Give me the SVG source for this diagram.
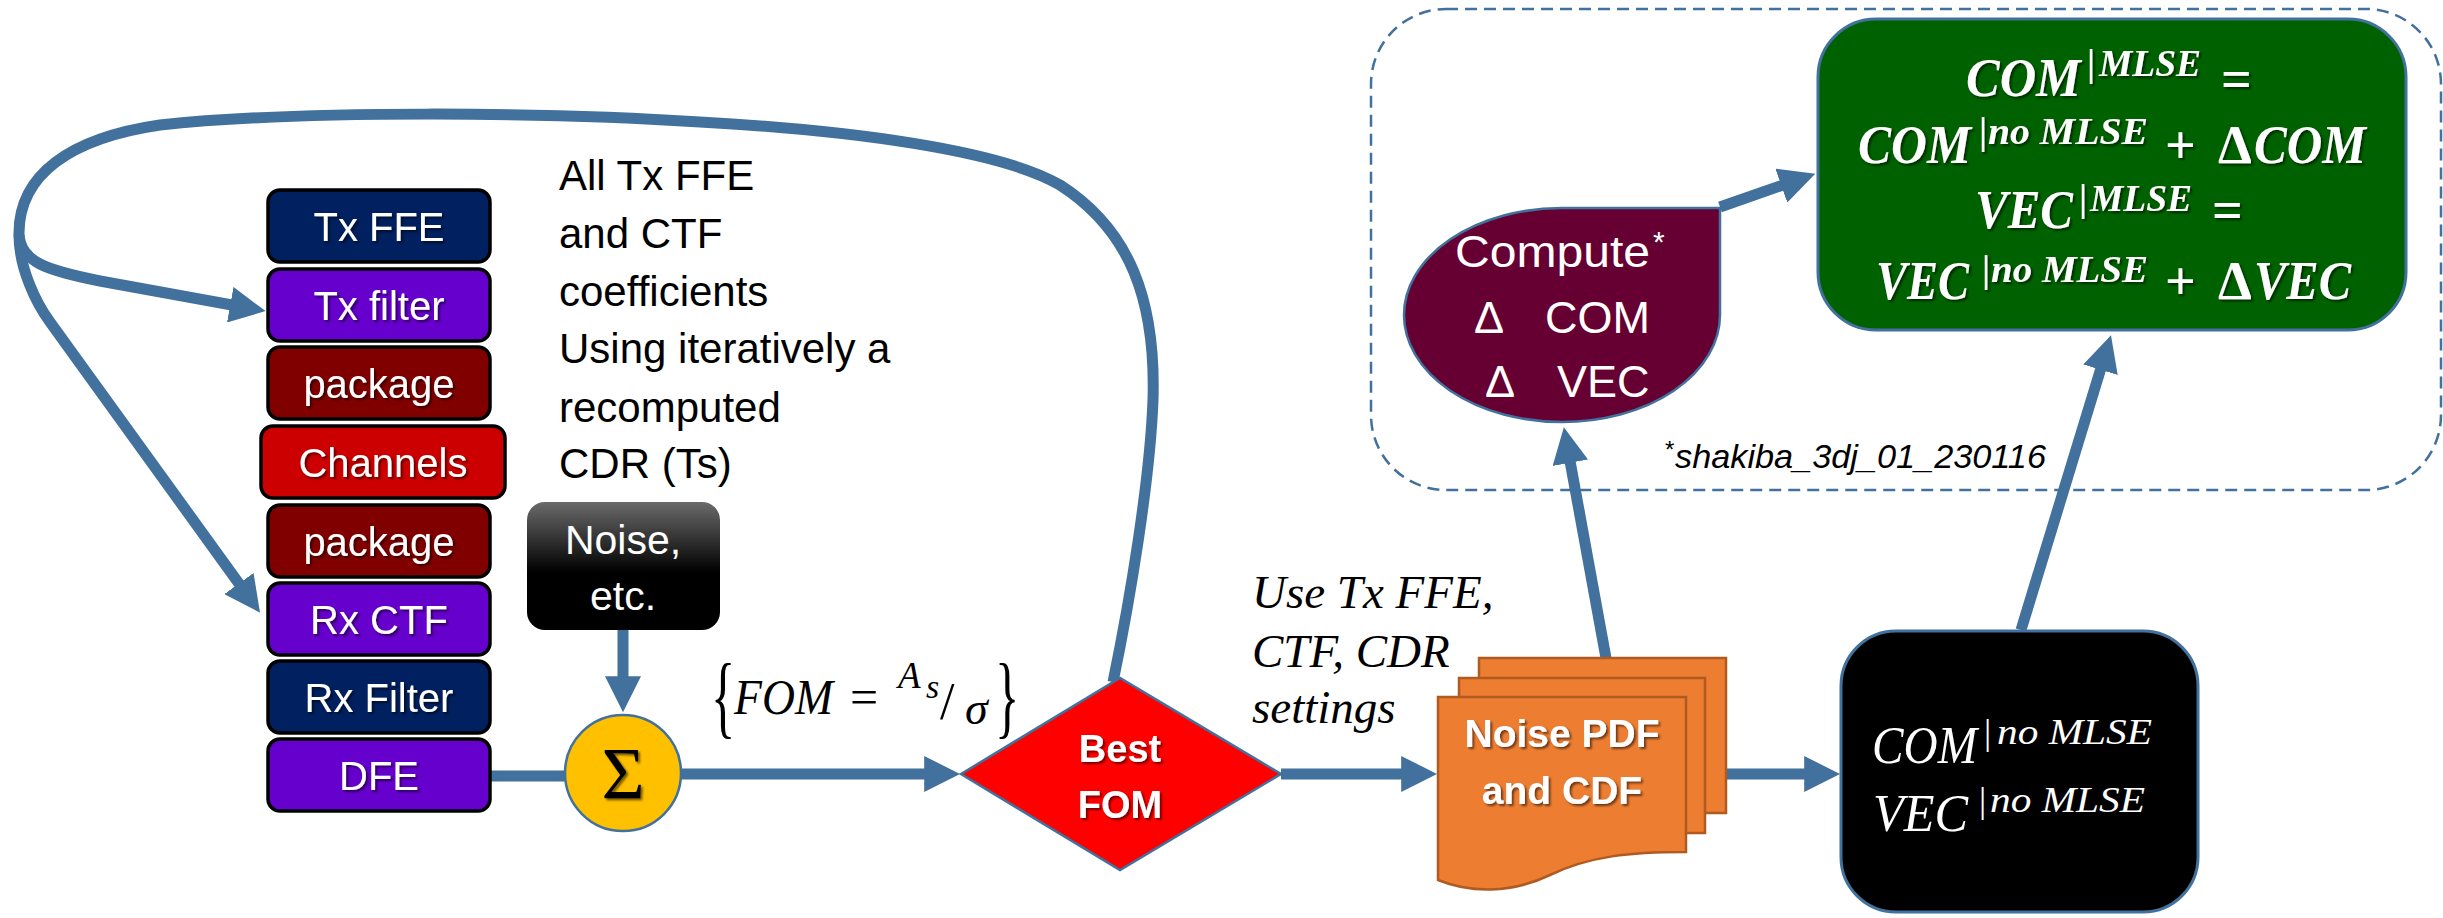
<svg xmlns="http://www.w3.org/2000/svg" width="2443" height="918" viewBox="0 0 2443 918">
<style>
.blk{stroke:#000;stroke-width:3.5}
.lbl{font-family:"Liberation Sans",Arial,sans-serif;font-size:40px;fill:#fff;text-anchor:middle;filter:url(#sh)}
.conn{fill:none;stroke:#41719C;stroke-width:11}
.note{font-family:"Liberation Sans",Arial,sans-serif;font-size:42px;fill:#000}
.m{font-family:"Liberation Serif","Times New Roman",serif;font-style:italic}
.up{font-style:normal}
.gm{font-family:"Liberation Serif","Times New Roman",serif;font-style:italic;font-weight:bold;fill:#fff;filter:url(#sh)}
.wm{font-family:"Liberation Serif","Times New Roman",serif;font-style:italic;fill:#fff}
</style>
<defs>
<marker id="ah" viewBox="0 0 10 10" refX="0.5" refY="5" markerWidth="36" markerHeight="36" markerUnits="userSpaceOnUse" orient="auto">
<path d="M0,0 L10,5 L0,10 z" fill="#41719C"/>
</marker>
<filter id="sh" x="-10%" y="-10%" width="130%" height="140%">
<feDropShadow dx="2" dy="2" stdDeviation="1.2" flood-color="#000" flood-opacity="0.55"/>
</filter>
<linearGradient id="ng" x1="0" y1="0" x2="0" y2="1">
<stop offset="0" stop-color="#6a6a6a"/>
<stop offset="0.55" stop-color="#000"/>
<stop offset="1" stop-color="#000"/>
</linearGradient>
</defs>

<g id="mlse-region">
<rect x="1371" y="9" width="1070" height="481" rx="75" fill="none" stroke="#41719C" stroke-width="2.5" stroke-dasharray="12 7"/>
</g>

<g id="connectors">
<path class="conn" d="M1113,682 C1130,600 1150,480 1153,400 C1156,300 1130,230 1060,185 C1000,150 850,130 700,122 C550,112 300,110 160,125 C70,138 18,175 19,235"/>
<path class="conn" d="M19,235 C22,262 45,270 100,281 L232,305" marker-end="url(#ah)"/>
<path class="conn" d="M19,235 C19,268 36,303 50,322 L240,585" marker-end="url(#ah)"/>
<path class="conn" d="M491,776 L566,776"/>
<path class="conn" d="M623,630 L623,678" marker-end="url(#ah)"/>
<path class="conn" d="M681,774 L926,774" marker-end="url(#ah)"/>
<path class="conn" d="M1281,774 L1403,774" marker-end="url(#ah)"/>
<path class="conn" d="M1726,774 L1806,774" marker-end="url(#ah)"/>
<path class="conn" d="M1606,658 L1570,461" marker-end="url(#ah)"/>
<path class="conn" d="M1720,207 L1783,185" marker-end="url(#ah)"/>
<path class="conn" d="M2021,630 L2101,368" marker-end="url(#ah)"/>
</g>

<g id="tx-ffe"><rect class="blk" x="268" y="190" width="222" height="72" rx="12" fill="#002060"/><text class="lbl" x="379" y="241">Tx FFE</text></g>
<g id="tx-filter"><rect class="blk" x="268" y="269" width="222" height="72" rx="12" fill="#6600CC"/><text class="lbl" x="379" y="320">Tx filter</text></g>
<g id="package-1"><rect class="blk" x="268" y="347" width="222" height="72" rx="12" fill="#800000"/><text class="lbl" x="379" y="398">package</text></g>
<g id="channels"><rect class="blk" x="261" y="426" width="244" height="72" rx="12" fill="#CC0000"/><text class="lbl" x="383" y="477">Channels</text></g>
<g id="package-2"><rect class="blk" x="268" y="505" width="222" height="72" rx="12" fill="#800000"/><text class="lbl" x="379" y="556">package</text></g>
<g id="rx-ctf"><rect class="blk" x="268" y="583" width="222" height="72" rx="12" fill="#6600CC"/><text class="lbl" x="379" y="634">Rx CTF</text></g>
<g id="rx-filter"><rect class="blk" x="268" y="661" width="222" height="72" rx="12" fill="#002060"/><text class="lbl" x="379" y="712">Rx Filter</text></g>
<g id="dfe"><rect class="blk" x="268" y="739" width="222" height="72" rx="12" fill="#6600CC"/><text class="lbl" x="379" y="790">DFE</text></g>

<g id="coeff-note">
<text class="note" x="559" y="190">All Tx FFE</text>
<text class="note" x="559" y="248">and CTF</text>
<text class="note" x="559" y="306">coefficients</text>
<text class="note" x="559" y="363">Using iteratively a</text>
<text class="note" x="559" y="422">recomputed</text>
<text class="note" x="559" y="478">CDR (Ts)</text>
</g>

<g id="noise">
<rect x="527" y="502" width="193" height="128" rx="18" fill="url(#ng)"/>
<text font-family="Liberation Sans, Arial, sans-serif" font-size="41" fill="#fff" text-anchor="middle" x="623" y="554">Noise,</text>
<text font-family="Liberation Sans, Arial, sans-serif" font-size="41" fill="#fff" text-anchor="middle" x="623" y="610">etc.</text>
</g>

<g id="sum">
<circle cx="623" cy="773" r="58" fill="#FFC000" stroke="#41719C" stroke-width="2.5"/>
<text font-family="Liberation Serif, Times New Roman, serif" font-size="74" fill="#000" text-anchor="middle" x="623" y="799" filter="url(#sh)">Σ</text>
</g>

<g id="fom-formula">
<text font-family="Liberation Serif, Times New Roman, serif" font-size="92" transform="translate(711,727) scale(0.55,1)">{</text>
<text class="m" font-size="50"><tspan x="734" y="714" textLength="99" lengthAdjust="spacingAndGlyphs">FOM</tspan><tspan class="up" x="850" y="714">=</tspan><tspan x="898" y="688" font-size="37">A</tspan><tspan x="926" y="698" font-size="34">s</tspan><tspan class="up" x="940" y="719" font-size="52">/</tspan><tspan x="965" y="724" font-size="46">σ</tspan></text>
<text font-family="Liberation Serif, Times New Roman, serif" font-size="92" transform="translate(995,727) scale(0.55,1)">}</text>
</g>

<g id="best-fom">
<polygon points="961,774 1120,678 1281,774 1120,870" fill="#FF0000" stroke="#41719C" stroke-width="2.5"/>
<text font-family="Liberation Sans, Arial, sans-serif" font-weight="bold" font-size="38" fill="#fff" text-anchor="middle" x="1120" y="762" filter="url(#sh)">Best</text>
<text font-family="Liberation Sans, Arial, sans-serif" font-weight="bold" font-size="38" fill="#fff" text-anchor="middle" x="1120" y="818" filter="url(#sh)">FOM</text>
</g>

<g id="settings-note">
<text font-family="Liberation Serif, Times New Roman, serif" font-style="italic" font-size="47" x="1252" y="608">Use Tx FFE,</text>
<text font-family="Liberation Serif, Times New Roman, serif" font-style="italic" font-size="47" x="1252" y="667">CTF, CDR</text>
<text font-family="Liberation Serif, Times New Roman, serif" font-style="italic" font-size="47" x="1252" y="723">settings</text>
</g>

<g id="noise-pdf">
<rect x="1479" y="658" width="247" height="155" fill="#ED7D31" stroke="#AE5A21" stroke-width="2.5"/>
<rect x="1459" y="678" width="246" height="155" fill="#ED7D31" stroke="#AE5A21" stroke-width="2.5"/>
<path d="M1438,697 L1686,697 L1686,852 C1630,852 1590,856 1550,875 C1510,894 1470,893 1438,880 Z" fill="#ED7D31" stroke="#AE5A21" stroke-width="2.5"/>
<text font-family="Liberation Sans, Arial, sans-serif" font-weight="bold" font-size="39" fill="#fff" text-anchor="middle" x="1562" y="747" filter="url(#sh)">Noise PDF</text>
<text font-family="Liberation Sans, Arial, sans-serif" font-weight="bold" font-size="39" fill="#fff" text-anchor="middle" x="1562" y="804" filter="url(#sh)">and CDF</text>
</g>

<g id="no-mlse">
<rect x="1841" y="631" width="357" height="281" rx="55" fill="#000" stroke="#41719C" stroke-width="3"/>
<text class="wm" font-size="52"><tspan x="1872" y="763" textLength="105" lengthAdjust="spacingAndGlyphs">COM</tspan><tspan class="up" x="1984" y="744" font-size="36">|</tspan><tspan x="1997" y="744" font-size="36" textLength="155" lengthAdjust="spacingAndGlyphs">no MLSE</tspan></text>
<text class="wm" font-size="52"><tspan x="1873" y="831" textLength="95" lengthAdjust="spacingAndGlyphs">VEC</tspan><tspan class="up" x="1979" y="812" font-size="36">|</tspan><tspan x="1990" y="812" font-size="36" textLength="155" lengthAdjust="spacingAndGlyphs">no MLSE</tspan></text>
</g>

<g id="compute">
<path d="M1562,208 L1720,208 L1720,315 A158,107 0 0 1 1562,422 A158,107 0 0 1 1404,315 A158,107 0 0 1 1562,208 Z" fill="#660033" stroke="#41719C" stroke-width="2.5"/>
<text font-family="Liberation Sans, Arial, sans-serif" font-size="45" fill="#fff"><tspan x="1455" y="267" textLength="195" lengthAdjust="spacingAndGlyphs">Compute</tspan><tspan x="1653" y="252" font-size="30">*</tspan></text>
<text font-family="Liberation Sans, Arial, sans-serif" font-size="45" fill="#fff"><tspan x="1474" y="333">Δ</tspan><tspan x="1545" y="333">COM</tspan></text>
<text font-family="Liberation Sans, Arial, sans-serif" font-size="45" fill="#fff"><tspan x="1485" y="397">Δ</tspan><tspan x="1557" y="397">VEC</tspan></text>
</g>

<g id="footnote">
<text font-family="Liberation Sans, Arial, sans-serif" font-style="italic" font-size="34"><tspan x="1664" y="458" font-size="24">*</tspan><tspan x="1675" y="468" textLength="371" lengthAdjust="spacingAndGlyphs">shakiba_3dj_01_230116</tspan></text>
</g>

<g id="with-mlse">
<rect x="1818" y="19" width="588" height="311" rx="58" fill="#006100" stroke="#41719C" stroke-width="3"/>
<text class="gm" font-size="54"><tspan x="1966" y="96" textLength="115" lengthAdjust="spacingAndGlyphs">COM</tspan><tspan class="up" x="2087" y="76" font-size="37">|</tspan><tspan x="2099" y="76" font-size="37" textLength="102" lengthAdjust="spacingAndGlyphs">MLSE</tspan><tspan class="up" x="2221" y="97">=</tspan></text>
<text class="gm" font-size="54"><tspan x="1858" y="163" textLength="113" lengthAdjust="spacingAndGlyphs">COM</tspan><tspan class="up" x="1979" y="144" font-size="37">|</tspan><tspan x="1988" y="144" font-size="37" textLength="160" lengthAdjust="spacingAndGlyphs">no MLSE</tspan><tspan class="up" x="2165" y="163">+</tspan><tspan class="up" x="2218" y="163">Δ</tspan><tspan x="2254" y="163" textLength="112" lengthAdjust="spacingAndGlyphs">COM</tspan></text>
<text class="gm" font-size="54"><tspan x="1975" y="228" textLength="98" lengthAdjust="spacingAndGlyphs">VEC</tspan><tspan class="up" x="2079" y="211" font-size="37">|</tspan><tspan x="2090" y="211" font-size="37" textLength="102" lengthAdjust="spacingAndGlyphs">MLSE</tspan><tspan class="up" x="2212" y="228">=</tspan></text>
<text class="gm" font-size="54"><tspan x="1876" y="299" textLength="93" lengthAdjust="spacingAndGlyphs">VEC</tspan><tspan class="up" x="1982" y="282" font-size="37">|</tspan><tspan x="1991" y="282" font-size="37" textLength="157" lengthAdjust="spacingAndGlyphs">no MLSE</tspan><tspan class="up" x="2165" y="299">+</tspan><tspan class="up" x="2218" y="299">Δ</tspan><tspan x="2254" y="299" textLength="97" lengthAdjust="spacingAndGlyphs">VEC</tspan></text>
</g>
</svg>
